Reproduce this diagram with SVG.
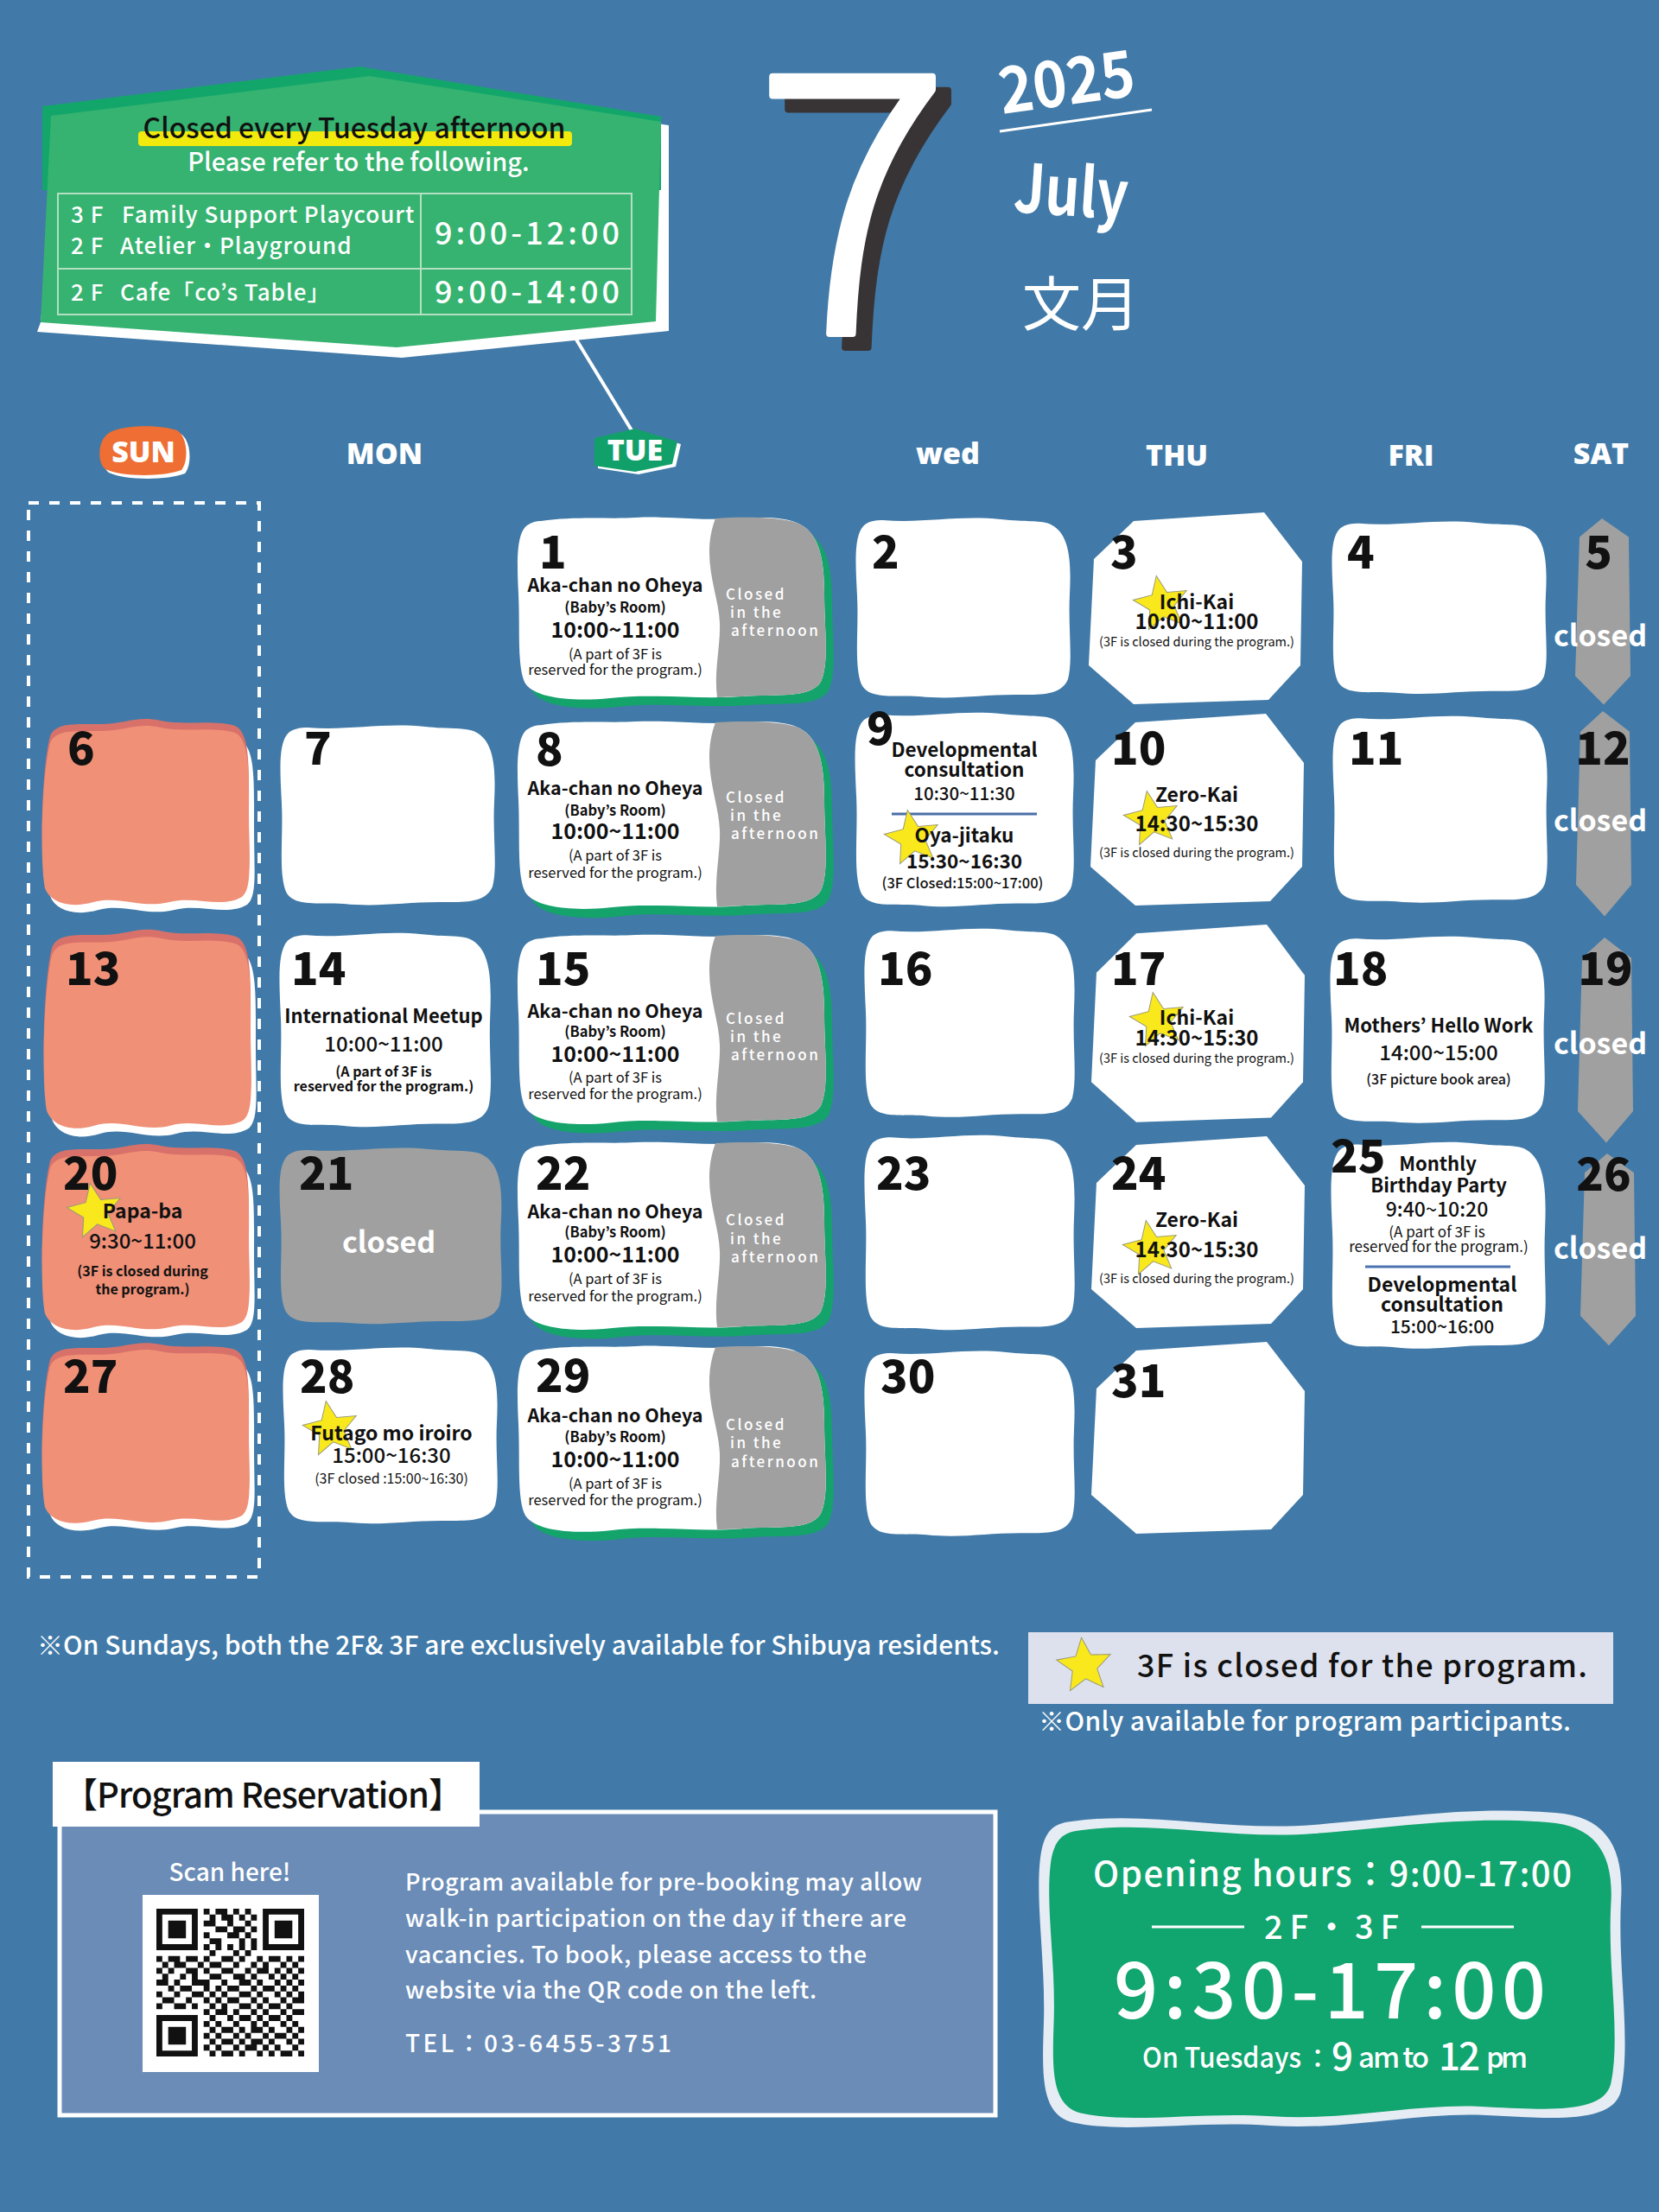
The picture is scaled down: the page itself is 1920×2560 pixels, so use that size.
<svg xmlns="http://www.w3.org/2000/svg" width="1920" height="2560" viewBox="0 0 1920 2560">
<defs>
<style>
text{font-family:"Noto Sans CJK JP","Noto Sans",sans-serif}
.num{font-weight:900;font-size:52px;fill:#111}
.numc{font-weight:900;font-size:52px;fill:#111;text-anchor:middle}
.b{font-weight:700;fill:#111;text-anchor:middle}
.m{font-weight:500;fill:#111;text-anchor:middle}
.r{font-weight:400;fill:#111;text-anchor:middle}
.aft{font-weight:500;font-size:17px;fill:#fff;letter-spacing:2.5px}
.cl{font-weight:700;font-size:34px;fill:#fff;text-anchor:middle}
.day{font-family:"Open Sans","DejaVu Sans",sans-serif;font-weight:800;font-size:34px;fill:#fff;text-anchor:middle}
.wt{fill:#fff;font-weight:500}
.tbl{fill:none;stroke:#b4e0c2;stroke-width:2}
</style>
<path id="tueW" d="M 30,6 C 70,0 110,4 140,2 C 180,0 220,6 260,3 C 290,1 312,2 326,8 C 352,18 358,50 358,90 C 358,130 364,170 354,192 C 342,212 300,206 262,209 C 210,213 160,205 110,211 C 70,215 24,212 12,194 C 2,176 6,130 4,90 C 2,50 2,20 14,11 C 20,7 25,6 30,6 Z"/>
<path id="tueG" d="M 232,3 C 262,1 304,1 326,8 C 352,18 358,50 358,90 C 358,130 364,170 354,192 C 342,212 300,206 262,209 L 234,210 C 230,180 238,150 237,124 C 236,90 214,50 232,3 Z"/>
<g id="tueShape">
<use href="#tueW" transform="translate(9,10)" fill="#14a36b"/>
<use href="#tueW" fill="#fff"/>
<use href="#tueG" fill="#a0a0a0"/>
</g>
<path id="wb" d="M 34,4 C 80,8 120,-2 170,3 C 200,6 214,4 226,8 C 250,18 252,50 250,90 C 248,130 254,165 248,188 C 240,208 214,206 186,206 C 146,206 116,212 76,208 C 46,206 18,212 9,194 C 0,172 6,130 4,92 C 2,52 0,22 12,10 C 18,5 26,4 34,4 Z"/>
<polygon id="oct" points="54,10 205,0 249,57 247,177 210,217 54,222 2,177 8,54" fill="#fff"/>
<polygon id="hex" points="33,0 64,22 66,186 35,220 2,186 7,22" fill="#a0a0a0"/>
<path id="sunP" d="M 12,22 C 18,6 40,8 70,8 C 100,8 112,-2 140,4 C 168,10 200,2 226,10 C 244,18 242,60 242,110 C 242,160 246,190 234,200 C 210,214 180,198 150,206 C 118,214 92,198 62,206 C 34,214 12,206 6,190 C 0,160 2,60 12,22 Z"/>
<g id="sunShape">
<use href="#sunP" transform="translate(6,9)" fill="#fff"/>
<use href="#sunP" transform="translate(0,-8)" fill="#d8716a"/>
<use href="#sunP" fill="#ef9077"/>
</g>
<polygon id="star" points="0,-33 8.8,-12.1 31.4,-10.2 14.3,4.6 19.4,26.7 0,15 -19.4,26.7 -14.3,4.6 -31.4,-10.2 -8.8,-12.1" fill="#f9e81c" stroke="#9a9a7a" stroke-width="1"/>
<text id="seven" x="0" y="0" font-family="Lato, Liberation Sans, sans-serif" font-weight="300" font-size="420">7</text>
</defs>

<rect x="0" y="0" width="1920" height="2560" fill="#417aa8"/>

<!-- Top banner -->
<g id="banner">
<polygon points="70,145 437,99 774,145 774,383 465,414 43,384 47,373" fill="#fff"/>
<polygon points="49,123 416,77 765,135 765,220 49,220" fill="#13a66b"/>
<polygon points="59,134 428,88 765,141 759,372 459,402 47,373" fill="#36b370"/>
<rect x="160" y="152" width="502" height="17" rx="4" fill="#f2ea0d"/>
<text x="410" y="160" font-size="32" text-anchor="middle" fill="#111" font-weight="500">Closed every Tuesday afternoon</text>
<text x="415" y="198" font-size="29" text-anchor="middle" class="wt">Please refer to the following.</text>
<rect class="tbl" x="67" y="224" width="664" height="140"/>
<line class="tbl" x1="67" y1="311" x2="731" y2="311"/>
<line class="tbl" x1="487" y1="224" x2="487" y2="364"/>
<text class="wt" x="82" y="258" font-size="26" letter-spacing="1">3 F</text>
<text class="wt" x="141" y="258" font-size="26" letter-spacing="1">Family Support Playcourt</text>
<text class="wt" x="82" y="294" font-size="26" letter-spacing="1">2 F</text>
<text class="wt" x="139" y="294" font-size="26" letter-spacing="1">Atelier・Playground</text>
<text class="wt" x="82" y="348" font-size="26" letter-spacing="1">2 F</text>
<text class="wt" x="139" y="348" font-size="26" letter-spacing="1">Cafe「co’s Table」</text>
<text class="wt" x="503" y="283" font-size="36" letter-spacing="4">9:00-12:00</text>
<text class="wt" x="503" y="351" font-size="36" letter-spacing="4">9:00-14:00</text>
</g>

<!-- Title -->
<g id="title">
<use href="#seven" transform="translate(892,402)" fill="#383436" stroke="#383436" stroke-width="8" stroke-linejoin="round"/>
<use href="#seven" transform="translate(874,386)" fill="#fff" stroke="#fff" stroke-width="8" stroke-linejoin="round"/>
<text x="1160" y="132" font-family="Liberation Mono, monospace" font-weight="700" font-size="74" fill="#fff" textLength="158" lengthAdjust="spacingAndGlyphs" transform="rotate(-8 1160 132)">2025</text>
<line x1="1157" y1="152" x2="1333" y2="127" stroke="#fff" stroke-width="3"/>
<text x="1172" y="245" font-family="Liberation Mono, monospace" font-weight="700" font-size="78" fill="#fff" textLength="132" lengthAdjust="spacingAndGlyphs" transform="rotate(4 1172 245)">July</text>
<text x="1251" y="377" font-family="Noto Sans CJK JP, sans-serif" font-size="68" fill="#fff" text-anchor="middle">文月</text>
</g>

<!-- Connectors -->
<g id="connectors">
<line x1="667" y1="393" x2="731" y2="498" stroke="#fff" stroke-width="4"/>
</g>

<!-- Day headers -->
<g id="headers">
<path d="M 126,509 C 134,496 184,494 209,502 C 222,510 222,539 214,548 C 194,556 144,556 126,547 C 116,539 118,516 126,509 Z" fill="#fff"/>
<path d="M 122,505 C 130,492 180,490 205,498 C 218,506 218,535 210,544 C 190,552 140,552 122,543 C 112,535 114,512 122,505 Z" fill="#ee6e33"/>
<text class="day" x="166" y="535" font-size="30">SUN</text>
<text class="day" x="445" y="537">MON</text>
<polygon points="739,499 788,514 782,540 739,549 692,542 692,510" fill="#fff"/>
<polygon points="735,496 784,511 778,537 735,546 688,539 688,507" fill="#12a06a"/>
<text class="day" x="735" y="533" font-size="30">TUE</text>
<text class="day" x="1097" y="537">wed</text>
<text class="day" x="1362" y="539">THU</text>
<text class="day" x="1633" y="539">FRI</text>
<text class="day" x="1853" y="537">SAT</text>
</g>

<rect x="33" y="582" width="267" height="1243" fill="none" stroke="#fff" stroke-width="4" stroke-dasharray="12 12"/>

<!-- Row 1 -->
<g id="day-1">
<use href="#tueShape" transform="translate(596,597)"/>
<text class="num" x="624" y="658">1</text>
<text class="b" x="712" y="685" font-size="21.5">Aka-chan no Oheya</text>
<text class="b" x="712" y="709" font-size="16.5">(Baby’s Room)</text>
<text class="b" x="712" y="738" font-size="25">10:00~11:00</text>
<text class="r" x="712" y="763" font-size="16.5">(A part of 3F is</text>
<text class="r" x="712" y="781" font-size="16.5">reserved for the program.)</text>
<text class="aft" x="840" y="694">Closed</text>
<text class="aft" x="845" y="715">in the</text>
<text class="aft" x="846" y="736">afternoon</text>
</g>
<g id="day-2">
<use href="#wb" fill="#fff" transform="translate(988,598)"/>
<text class="num" x="1009" y="658">2</text>
</g>
<g id="day-3">
<use href="#oct" transform="translate(1258,593)"/>
<text class="num" x="1285" y="658">3</text>
<use href="#star" transform="translate(1344,699) rotate(-10)"/>
<text class="b" x="1385" y="705" font-size="23">Ichi-Kai</text>
<text class="b" x="1385" y="728" font-size="24">10:00~11:00</text>
<text class="r" x="1385" y="748" font-size="14.5">(3F is closed during the program.)</text>
</g>
<g id="day-4">
<use href="#wb" fill="#fff" transform="translate(1539,602) scale(1,0.96)"/>
<text class="num" x="1559" y="658">4</text>
</g>
<g id="day-5">
<use href="#hex" transform="translate(1821,600) scale(1,0.98)"/>
<text class="numc" x="1850" y="658">5</text>
<text class="cl" x="1852" y="748">closed</text>
</g>

<!-- Row 2 -->
<g id="day-6">
<use href="#sunShape" transform="translate(46,838)"/>
<text class="num" x="78" y="885">6</text>
</g>
<g id="day-7">
<use href="#wb" fill="#fff" transform="translate(322,838)"/>
<text class="num" x="352" y="885">7</text>
</g>
<g id="day-8">
<use href="#tueShape" transform="translate(596,833) scale(1,1.03)"/>
<text class="num" x="620" y="886">8</text>
<text class="b" x="712" y="920" font-size="21.5">Aka-chan no Oheya</text>
<text class="b" x="712" y="944" font-size="16.5">(Baby’s Room)</text>
<text class="b" x="712" y="971" font-size="25">10:00~11:00</text>
<text class="r" x="712" y="996" font-size="16.5">(A part of 3F is</text>
<text class="r" x="712" y="1016" font-size="16.5">reserved for the program.)</text>
<text class="aft" x="840" y="929">Closed</text>
<text class="aft" x="845" y="950">in the</text>
<text class="aft" x="846" y="971">afternoon</text>
</g>
<g id="day-9">
<use href="#wb" fill="#fff" transform="translate(987,823) scale(1.02,1.08)"/>
<text class="num" x="1003" y="862">9</text>
<text class="b" x="1116" y="876" font-size="22.5">Developmental</text>
<text class="b" x="1116" y="899" font-size="22.5">consultation</text>
<text class="m" x="1116" y="926" font-size="20.5">10:30~11:30</text>
<line x1="1032" y1="942" x2="1200" y2="942" stroke="#4a6fa5" stroke-width="3"/>
<use href="#star" transform="translate(1056,970) rotate(-10)"/>
<text class="b" x="1116" y="975" font-size="22.5">Oya-jitaku</text>
<text class="b" x="1116" y="1005" font-size="22.5">15:30~16:30</text>
<text class="m" x="1114" y="1028" font-size="16.5">(3F Closed:15:00~17:00)</text>
</g>
<g id="day-10">
<use href="#oct" transform="translate(1260,826)"/>
<text class="num" x="1286" y="885">10</text>
<use href="#star" transform="translate(1333,948) rotate(-10)"/>
<text class="b" x="1385" y="928" font-size="23">Zero-Kai</text>
<text class="b" x="1385" y="962" font-size="24">14:30~15:30</text>
<text class="r" x="1385" y="992" font-size="14.5">(3F is closed during the program.)</text>
</g>
<g id="day-11">
<use href="#wb" fill="#fff" transform="translate(1540,827) scale(1,1.04)"/>
<text class="num" x="1561" y="885">11</text>
</g>
<g id="day-12">
<use href="#hex" transform="translate(1822,823) scale(1,1.08)"/>
<text class="numc" x="1855" y="885">12</text>
<text class="cl" x="1852" y="962">closed</text>
</g>

<!-- Row 3 -->
<g id="day-13">
<use href="#sunShape" transform="translate(48,1082) scale(1,1.07)"/>
<text class="num" x="76" y="1140">13</text>
</g>
<g id="day-14">
<use href="#wb" fill="#fff" transform="translate(321,1078) scale(0.985,1.08)"/>
<text class="num" x="337" y="1140">14</text>
<text class="b" x="444" y="1184" font-size="22">International Meetup</text>
<text class="m" x="444" y="1217" font-size="24">10:00~11:00</text>
<text class="b" x="444" y="1246" font-size="16">(A part of 3F is</text>
<text class="b" x="444" y="1263" font-size="16">reserved for the program.)</text>
</g>
<g id="day-15">
<use href="#tueShape" transform="translate(596,1080) scale(1,1.04)"/>
<text class="num" x="620" y="1140">15</text>
<text class="b" x="712" y="1178" font-size="21.5">Aka-chan no Oheya</text>
<text class="b" x="712" y="1200" font-size="16.5">(Baby’s Room)</text>
<text class="b" x="712" y="1229" font-size="25">10:00~11:00</text>
<text class="r" x="712" y="1253" font-size="16.5">(A part of 3F is</text>
<text class="r" x="712" y="1272" font-size="16.5">reserved for the program.)</text>
<text class="aft" x="840" y="1185">Closed</text>
<text class="aft" x="845" y="1206">in the</text>
<text class="aft" x="846" y="1227">afternoon</text>
</g>
<g id="day-16">
<use href="#wb" fill="#fff" transform="translate(998,1073) scale(0.98,1.05)"/>
<text class="num" x="1016" y="1140">16</text>
</g>
<g id="day-17">
<use href="#oct" transform="translate(1261,1070) scale(1,1.03)"/>
<text class="num" x="1286" y="1140">17</text>
<use href="#star" transform="translate(1340,1181) rotate(-10)"/>
<text class="b" x="1385" y="1186" font-size="23">Ichi-Kai</text>
<text class="b" x="1385" y="1210" font-size="24">14:30~15:30</text>
<text class="r" x="1385" y="1230" font-size="14.5">(3F is closed during the program.)</text>
</g>
<g id="day-18">
<use href="#wb" fill="#fff" transform="translate(1537,1082) scale(1,1.04)"/>
<text class="num" x="1543" y="1140">18</text>
<text class="b" x="1665" y="1195" font-size="22">Mothers’ Hello Work</text>
<text class="m" x="1665" y="1227" font-size="24">14:00~15:00</text>
<text class="m" x="1665" y="1255" font-size="16">(3F picture book area)</text>
</g>
<g id="day-19">
<use href="#hex" transform="translate(1824,1085) scale(1,1.08)"/>
<text class="numc" x="1858" y="1140">19</text>
<text class="cl" x="1852" y="1220">closed</text>
</g>

<!-- Row 4 -->
<g id="day-20">
<use href="#sunShape" transform="translate(46,1330)"/>
<text class="num" x="73" y="1377">20</text>
<use href="#star" transform="translate(110,1402) rotate(-10)"/>
<text class="b" x="165" y="1410" font-size="23">Papa-ba</text>
<text class="m" x="165" y="1445" font-size="24">9:30~11:00</text>
<text class="b" x="165" y="1477" font-size="16">(3F is closed during</text>
<text class="b" x="165" y="1498" font-size="16">the program.)</text>
</g>
<g id="day-21">
<use href="#wb" fill="#a0a0a0" transform="translate(321,1327) scale(1.035,0.98)"/>
<text class="num" x="346" y="1377">21</text>
<text class="cl" x="450" y="1450">closed</text>
</g>
<g id="day-22">
<use href="#tueShape" transform="translate(596,1320) scale(1,1.03)"/>
<text class="num" x="620" y="1377">22</text>
<text class="b" x="712" y="1410" font-size="21.5">Aka-chan no Oheya</text>
<text class="b" x="712" y="1432" font-size="16.5">(Baby’s Room)</text>
<text class="b" x="712" y="1461" font-size="25">10:00~11:00</text>
<text class="r" x="712" y="1486" font-size="16.5">(A part of 3F is</text>
<text class="r" x="712" y="1506" font-size="16.5">reserved for the program.)</text>
<text class="aft" x="840" y="1418">Closed</text>
<text class="aft" x="845" y="1440">in the</text>
<text class="aft" x="846" y="1461">afternoon</text>
</g>
<g id="day-23">
<use href="#wb" fill="#fff" transform="translate(998,1312) scale(0.98,1.085)"/>
<text class="num" x="1014" y="1377">23</text>
</g>
<g id="day-24">
<use href="#oct" transform="translate(1261,1315)"/>
<text class="num" x="1286" y="1377">24</text>
<use href="#star" transform="translate(1332,1445) rotate(-10)"/>
<text class="b" x="1385" y="1420" font-size="23">Zero-Kai</text>
<text class="b" x="1385" y="1455" font-size="24">14:30~15:30</text>
<text class="r" x="1385" y="1485" font-size="14.5">(3F is closed during the program.)</text>
</g>
<g id="day-25">
<use href="#wb" fill="#fff" transform="translate(1538,1320) scale(1,1.15)"/>
<text class="num" x="1540" y="1357">25</text>
<text class="b" x="1664" y="1355" font-size="22">Monthly</text>
<text class="b" x="1665" y="1380" font-size="22">Birthday Party</text>
<text class="m" x="1663" y="1408" font-size="23">9:40~10:20</text>
<text class="r" x="1663" y="1432" font-size="17">(A part of 3F is</text>
<text class="r" x="1665" y="1449" font-size="17">reserved for the program.)</text>
<line x1="1580" y1="1466" x2="1748" y2="1466" stroke="#4a72b0" stroke-width="3"/>
<text class="b" x="1669" y="1495" font-size="23">Developmental</text>
<text class="b" x="1669" y="1518" font-size="23">consultation</text>
<text class="m" x="1669" y="1543" font-size="21">15:00~16:00</text>
</g>
<g id="day-26">
<use href="#hex" transform="translate(1827,1335) scale(1,1.01)"/>
<text class="numc" x="1856" y="1378">26</text>
<text class="cl" x="1852" y="1457">closed</text>
</g>

<!-- Row 5 -->
<g id="day-27">
<use href="#sunShape" transform="translate(46,1560) scale(1,0.97)"/>
<text class="num" x="73" y="1612">27</text>
</g>
<g id="day-28">
<use href="#wb" fill="#fff" transform="translate(325,1558) scale(1,0.98)"/>
<text class="num" x="347" y="1612">28</text>
<use href="#star" transform="translate(383,1654) rotate(-10)"/>
<text class="b" x="453" y="1667" font-size="23">Futago mo iroiro</text>
<text class="m" x="453" y="1693" font-size="24">15:00~16:30</text>
<text class="r" x="453" y="1717" font-size="16">(3F closed :15:00~16:30)</text>
</g>
<g id="day-29">
<use href="#tueShape" transform="translate(596,1556) scale(1,1.02)"/>
<text class="num" x="620" y="1611">29</text>
<text class="b" x="712" y="1646" font-size="21.5">Aka-chan no Oheya</text>
<text class="b" x="712" y="1669" font-size="16.5">(Baby’s Room)</text>
<text class="b" x="712" y="1698" font-size="25">10:00~11:00</text>
<text class="r" x="712" y="1723" font-size="16.5">(A part of 3F is</text>
<text class="r" x="712" y="1742" font-size="16.5">reserved for the program.)</text>
<text class="aft" x="840" y="1655">Closed</text>
<text class="aft" x="845" y="1676">in the</text>
<text class="aft" x="846" y="1698">afternoon</text>
</g>
<g id="day-30">
<use href="#wb" fill="#fff" transform="translate(998,1562) scale(0.98,1.03)"/>
<text class="num" x="1019" y="1612">30</text>
</g>
<g id="day-31">
<use href="#oct" transform="translate(1261,1553)"/>
<text class="num" x="1286" y="1617">31</text>
</g>

<!-- Notes -->
<g id="notes">
<text class="wt" x="43" y="1915" font-size="30" textLength="1114" lengthAdjust="spacing">※On Sundays, both the 2F&amp; 3F are exclusively available for Shibuya residents.</text>
<rect x="1190" y="1889" width="677" height="83" fill="#dde1ee"/>
<use href="#star" transform="translate(1255,1928) rotate(-6)"/>
<text x="1316" y="1941" font-size="36" fill="#111" font-weight="500" textLength="521" lengthAdjust="spacing">3F is closed for the program.</text>
<text class="wt" x="1202" y="2003" font-size="30" textLength="616" lengthAdjust="spacing">※Only available for program participants.</text>
</g>

<!-- Program reservation -->
<g id="reservation">
<rect x="69" y="2097" width="1083" height="351" fill="#6a8cb7" stroke="#fff" stroke-width="5"/>
<rect x="61" y="2039" width="494" height="75" fill="#fff"/>
<text x="73" y="2092" font-size="40" fill="#111" font-weight="500" textLength="463" lengthAdjust="spacing">【Program Reservation】</text>
<text class="wt" x="266" y="2177" font-size="28" text-anchor="middle">Scan here!</text>
<rect x="165" y="2193" width="204" height="205" fill="#fff"/>
<g transform="translate(181,2209) scale(6.84)" fill="#111">
<path fill-rule="evenodd" d="M0 0h7v7h-7zM1 1h5v5h-5zM2 2h3v3h-3zM18 0h7v7h-7zM19 1h5v5h-5zM20 2h3v3h-3zM0 18h7v7h-7zM1 19h5v5h-5zM2 20h3v3h-3z"/>
<path d="M8 0h1v1h-1zM10 0h2v1h-2zM13 0h1v1h-1zM15 0h1v1h-1zM9 1h1v1h-1zM11 1h2v1h-2zM14 1h1v1h-1zM16 1h1v1h-1zM8 2h2v1h-2zM12 2h1v1h-1zM15 2h1v1h-1zM10 3h2v1h-2zM13 3h2v1h-2zM16 3h1v1h-1zM8 4h1v1h-1zM12 4h2v1h-2zM15 4h1v1h-1zM9 5h2v1h-2zM14 5h1v1h-1zM16 5h1v1h-1zM8 6h1v1h-1zM10 6h1v1h-1zM12 6h1v1h-1zM14 6h1v1h-1zM16 6h1v1h-1zM9 7h1v1h-1zM13 7h1v1h-1zM15 7h1v1h-1zM0 8h1v1h-1zM2 8h2v1h-2zM5 8h2v1h-2zM8 8h1v1h-1zM11 8h2v1h-2zM14 8h1v1h-1zM17 8h1v1h-1zM19 8h2v1h-2zM22 8h1v1h-1zM24 8h1v1h-1zM1 9h1v1h-1zM3 9h2v1h-2zM7 9h1v1h-1zM9 9h2v1h-2zM13 9h1v1h-1zM16 9h1v1h-1zM18 9h1v1h-1zM21 9h1v1h-1zM23 9h1v1h-1zM0 10h1v1h-1zM2 10h1v1h-1zM5 10h2v1h-2zM8 10h1v1h-1zM11 10h2v1h-2zM15 10h1v1h-1zM17 10h2v1h-2zM20 10h1v1h-1zM22 10h1v1h-1zM24 10h1v1h-1zM1 11h1v1h-1zM4 11h1v1h-1zM6 11h1v1h-1zM9 11h2v1h-2zM13 11h2v1h-2zM16 11h1v1h-1zM19 11h1v1h-1zM21 11h1v1h-1zM23 11h1v1h-1zM0 12h2v1h-2zM3 12h1v1h-1zM6 12h3v1h-3zM11 12h1v1h-1zM14 12h2v1h-2zM17 12h1v1h-1zM20 12h1v1h-1zM22 12h1v1h-1zM24 12h1v1h-1zM2 13h1v1h-1zM4 13h2v1h-2zM8 13h1v1h-1zM10 13h1v1h-1zM12 13h2v1h-2zM16 13h1v1h-1zM18 13h2v1h-2zM21 13h1v1h-1zM23 13h1v1h-1zM0 14h1v1h-1zM3 14h1v1h-1zM6 14h2v1h-2zM9 14h1v1h-1zM11 14h1v1h-1zM14 14h2v1h-2zM17 14h1v1h-1zM20 14h1v1h-1zM22 14h1v1h-1zM24 14h1v1h-1zM1 15h2v1h-2zM5 15h1v1h-1zM8 15h1v1h-1zM10 15h1v1h-1zM12 15h2v1h-2zM16 15h1v1h-1zM18 15h1v1h-1zM21 15h1v1h-1zM23 15h2v1h-2zM0 16h1v1h-1zM3 16h2v1h-2zM6 16h1v1h-1zM9 16h1v1h-1zM11 16h1v1h-1zM14 16h2v1h-2zM17 16h1v1h-1zM19 16h2v1h-2zM22 16h1v1h-1zM8 17h1v1h-1zM10 17h2v1h-2zM13 17h1v1h-1zM16 17h1v1h-1zM18 17h1v1h-1zM21 17h1v1h-1zM23 17h2v1h-2zM9 18h1v1h-1zM12 18h1v1h-1zM14 18h2v1h-2zM17 18h1v1h-1zM19 18h2v1h-2zM22 18h1v1h-1zM8 19h1v1h-1zM10 19h1v1h-1zM13 19h1v1h-1zM16 19h1v1h-1zM18 19h1v1h-1zM21 19h1v1h-1zM23 19h1v1h-1zM9 20h1v1h-1zM11 20h2v1h-2zM14 20h1v1h-1zM16 20h2v1h-2zM19 20h1v1h-1zM22 20h1v1h-1zM24 20h1v1h-1zM8 21h1v1h-1zM10 21h1v1h-1zM13 21h1v1h-1zM15 21h1v1h-1zM18 21h1v1h-1zM20 21h2v1h-2zM23 21h1v1h-1zM9 22h1v1h-1zM11 22h2v1h-2zM14 22h1v1h-1zM16 22h2v1h-2zM19 22h1v1h-1zM22 22h1v1h-1zM24 22h1v1h-1zM8 23h1v1h-1zM10 23h1v1h-1zM13 23h1v1h-1zM15 23h2v1h-2zM18 23h1v1h-1zM20 23h1v1h-1zM23 23h1v1h-1zM9 24h1v1h-1zM11 24h2v1h-2zM14 24h1v1h-1zM17 24h1v1h-1zM19 24h1v1h-1zM21 24h2v1h-2zM24 24h1v1h-1z"/>
</g>
<text class="wt" x="469" y="2188" font-size="27" textLength="598" lengthAdjust="spacing">Program available for pre-booking may allow</text>
<text class="wt" x="469" y="2230" font-size="27" textLength="580" lengthAdjust="spacing">walk-in participation on the day if there are</text>
<text class="wt" x="469" y="2272" font-size="27" textLength="534" lengthAdjust="spacing">vacancies. To book, please access to the</text>
<text class="wt" x="469" y="2313" font-size="27" textLength="476" lengthAdjust="spacing">website via the QR code on the left.</text>
<text class="wt" x="469" y="2375" font-size="28" textLength="308" lengthAdjust="spacing">TEL：03-6455-3751</text>
</g>

<!-- Opening hours -->
<g id="hours">
<path d="M 1240,2108 C 1330,2095 1420,2120 1520,2112 C 1620,2104 1700,2090 1800,2098 C 1860,2102 1880,2140 1876,2200 C 1872,2280 1888,2360 1876,2420 C 1866,2458 1800,2452 1720,2448 C 1640,2444 1560,2466 1470,2460 C 1380,2454 1300,2470 1240,2456 C 1204,2446 1206,2400 1208,2340 C 1210,2270 1198,2200 1204,2150 C 1208,2118 1220,2110 1240,2108 Z" fill="#e6ecf4"/>
<path d="M 1240,2108 C 1330,2095 1420,2120 1520,2112 C 1620,2104 1700,2090 1800,2098 C 1860,2102 1880,2140 1876,2200 C 1872,2280 1888,2360 1876,2420 C 1866,2458 1800,2452 1720,2448 C 1640,2444 1560,2466 1470,2460 C 1380,2454 1300,2470 1240,2456 C 1204,2446 1206,2400 1208,2340 C 1210,2270 1198,2200 1204,2150 C 1208,2118 1220,2110 1240,2108 Z" fill="#11a56f" transform="translate(1542,2280) scale(0.965,0.94) translate(-1542,-2280)"/>
<text class="wt" x="1265" y="2183" font-size="40" textLength="554" lengthAdjust="spacing">Opening hours：9:00-17:00</text>
<line x1="1333" y1="2230" x2="1440" y2="2230" stroke="#fff" stroke-width="3"/>
<line x1="1645" y1="2230" x2="1752" y2="2230" stroke="#fff" stroke-width="3"/>
<text class="wt" x="1463" y="2244" font-size="38" textLength="156" lengthAdjust="spacing">2F・3F</text>
<text class="wt" x="1289" y="2336" font-size="90" textLength="500" lengthAdjust="spacing">9:30-17:00</text>
<text class="wt" x="1322" y="2393" font-size="33" textLength="184" lengthAdjust="spacingAndGlyphs">On Tuesdays</text>
<text class="wt" x="1510" y="2393" font-size="30">：</text>
<text class="wt" x="1541" y="2396" font-size="44">9</text>
<text class="wt" x="1572" y="2393" font-size="33" textLength="82" lengthAdjust="spacing">am to</text>
<text class="wt" x="1665" y="2396" font-size="44" textLength="48" lengthAdjust="spacing">12</text>
<text class="wt" x="1720" y="2393" font-size="33" textLength="48" lengthAdjust="spacing">pm</text>
</g>
</svg>
